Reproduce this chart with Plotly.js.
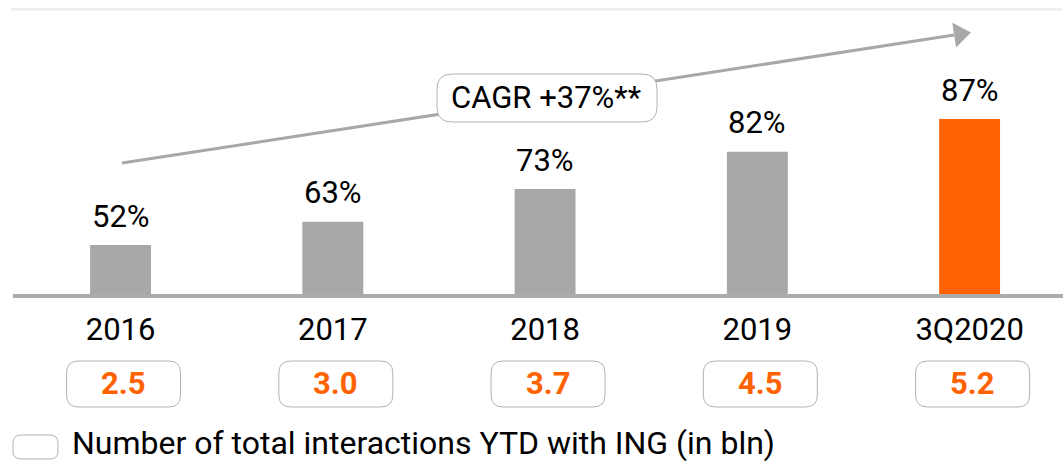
<!DOCTYPE html>
<html>
<head>
<meta charset="utf-8">
<script src="https://cdn.plot.ly/plotly-3.0.1.min.js"></script>
<style>
  html, body { margin: 0; padding: 0; background: #fff; }
  #chart { width: 1063px; height: 462px; }
</style>
</head>
<body>
<div id="chart"></div>
<script>
// ---- data ----
const categories = ['2016', '2017', '2018', '2019', '3Q2020'];
const interactions = [2.5, 3.0, 3.7, 4.5, 5.2];      // bln, drives bar height
const digitalShare = [52, 63, 73, 82, 87];          // % labels above bars
const cagrLabel = 'CAGR +37%**';
const legendLabel = 'Number of total interactions YTD with ING (in bln)';

// ---- style ----
const W = 1063, H = 462, PLOT_B = 294;
const GRAY = '#a8a8a8', ORANGE = '#ff6200', BORDER = '#b3b3b3', TXT = '#000000';
const FONT = 'Roboto, "Open Sans", sans-serif';
const FS = 31;

const X = p => p / W;
const Y = p => (PLOT_B - p) / PLOT_B;

function roundRectPaper(x0, y0, x1, y1, r) {
  const rx = r / W, ry = r / PLOT_B;
  const L = X(x0), R = X(x1), T = Y(y0), B = Y(y1);
  return `M${L + rx},${T} L${R - rx},${T} Q${R},${T} ${R},${T - ry} L${R},${B + ry} Q${R},${B} ${R - rx},${B} ` +
         `L${L + rx},${B} Q${L},${B} ${L},${B + ry} L${L},${T - ry} Q${L},${T} ${L + rx},${T} Z`;
}
function roundRectPixel(cx, w, h, r) {
  const a = w / 2, b = h / 2;
  return `M${cx - a + r},${-b} L${cx + a - r},${-b} Q${cx + a},${-b} ${cx + a},${-b + r} L${cx + a},${b - r} ` +
         `Q${cx + a},${b} ${cx + a - r},${b} L${cx - a + r},${b} Q${cx - a},${b} ${cx - a},${b - r} ` +
         `L${cx - a},${-b + r} Q${cx - a},${-b} ${cx - a + r},${-b} Z`;
}

const barColors = categories.map((c, i) => (i === categories.length - 1 ? ORANGE : GRAY));

const trace = {
  type: 'bar',
  x: categories,
  y: interactions,
  width: 0.287,
  marker: { color: barColors, line: { width: 0 } },
  hoverinfo: 'skip'
};

// arrow geometry (decorative trend arrow)
const tip = [971, 32.5], start = [122, 163];
const dx = tip[0] - start[0], dy = tip[1] - start[1];
const len = Math.hypot(dx, dy), ux = dx / len, uy = dy / len;
const headL = 17, headHW = 12.5;
const base = [tip[0] - headL * ux, tip[1] - headL * uy];
const p1 = [base[0] - headHW * uy, base[1] + headHW * ux];
const p2 = [base[0] + headHW * uy, base[1] - headHW * ux];

const shapes = [
  { type: 'line', xref: 'paper', yref: 'paper', x0: X(11), x1: 1, y0: Y(9.3), y1: Y(9.3),
    line: { color: '#efefef', width: 3 } },
  { type: 'line', xref: 'paper', yref: 'paper', x0: X(13), x1: 1, y0: Y(296), y1: Y(296),
    line: { color: '#ababab', width: 4 } },
  { type: 'line', xref: 'paper', yref: 'paper', x0: X(start[0]), y0: Y(start[1]), x1: X(base[0]), y1: Y(base[1]),
    line: { color: GRAY, width: 3 } },
  { type: 'path', xref: 'paper', yref: 'paper',
    path: `M${X(tip[0])},${Y(tip[1])} L${X(p1[0])},${Y(p1[1])} L${X(p2[0])},${Y(p2[1])} Z`,
    fillcolor: GRAY, line: { width: 0 } },
  { type: 'path', xref: 'paper', yref: 'paper', path: roundRectPaper(437, 74, 657, 122, 15),
    fillcolor: '#ffffff', line: { color: BORDER, width: 1 } },
  { type: 'path', xref: 'paper', yref: 'paper', path: roundRectPaper(13, 435, 58, 459, 8),
    fillcolor: '#ffffff', line: { color: BORDER, width: 1 } }
];

// value boxes under each category (category index used as position on the category axis)
categories.forEach((c, i) => {
  shapes.push({
    type: 'path', xref: 'x', yref: 'paper', xsizemode: 'pixel', ysizemode: 'pixel',
    xanchor: i, yanchor: Y(384), path: roundRectPixel(3, 114, 46, 12),
    fillcolor: 'rgba(0,0,0,0)', line: { color: BORDER, width: 1 }
  });
});

const annotations = [];
categories.forEach((c, i) => {
  annotations.push({
    x: i, y: interactions[i], xref: 'x', yref: 'y', yanchor: 'middle', yshift: 29,
    text: digitalShare[i] + '%', showarrow: false, font: { family: FONT, size: FS, color: TXT }
  });
  annotations.push({
    x: i, y: Y(383.5), xref: 'x', yref: 'paper', yanchor: 'middle', xshift: 3,
    text: '<b>' + interactions[i].toFixed(1) + '</b>', showarrow: false,
    font: { family: FONT, size: FS, color: ORANGE }
  });
});
annotations.push({
  x: X(546), y: Y(97), xref: 'paper', yref: 'paper', yanchor: 'middle', xanchor: 'center',
  text: cagrLabel, showarrow: false, font: { family: FONT, size: FS, color: TXT }
});
annotations.push({
  x: X(71), y: Y(443), xref: 'paper', yref: 'paper', yanchor: 'middle', xanchor: 'left',
  borderpad: 0,
  text: legendLabel, showarrow: false, font: { family: FONT, size: 32, color: TXT }
});

const layout = {
  width: W, height: H,
  margin: { l: 0, r: 0, t: 0, b: H - PLOT_B, pad: 0 },
  paper_bgcolor: '#ffffff', plot_bgcolor: '#ffffff',
  showlegend: false,
  xaxis: {
    type: 'category', range: [-0.568, 4.44], showgrid: false, zeroline: false, showline: false,
    ticks: '', ticklabelstandoff: 14, tickfont: { family: FONT, size: FS, color: TXT }, fixedrange: true
  },
  yaxis: { range: [1.45, 7.75], visible: false, fixedrange: true },
  shapes: shapes,
  annotations: annotations
};

Plotly.newPlot('chart', [trace], layout, { displayModeBar: false, staticPlot: true });
</script>
</body>
</html>
